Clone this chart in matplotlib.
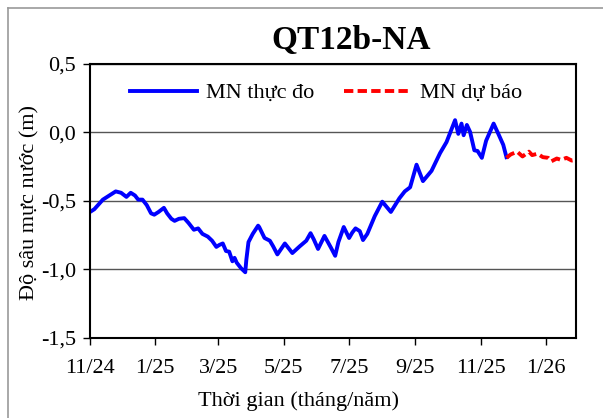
import numpy as np
import pandas as pd
import matplotlib
matplotlib.use("Agg")
import matplotlib.pyplot as plt
from matplotlib.ticker import FuncFormatter, MultipleLocator
from matplotlib.lines import Line2D

plt.rcParams["font.family"] = ["Liberation Serif", "DejaVu Serif"]
plt.rcParams.update({'font.size': 16})

# observed water level (m)
obs_dates = ["2024-11-01", "2024-11-05", "2024-11-13", "2024-11-17", "2024-11-25", "2024-11-30",
             "2024-12-05", "2024-12-09", "2024-12-13", "2024-12-16", "2024-12-20", "2024-12-24",
             "2024-12-28", "2024-12-31", "2025-01-04", "2025-01-09", "2025-01-12", "2025-01-16",
             "2025-01-19", "2025-01-23", "2025-01-28", "2025-02-01", "2025-02-06", "2025-02-10",
             "2025-02-14", "2025-02-19", "2025-02-23", "2025-02-27", "2025-03-02", "2025-03-05",
             "2025-03-08", "2025-03-11", "2025-03-14", "2025-03-16", "2025-03-18", "2025-03-22",
             "2025-03-26", "2025-03-27", "2025-03-29", "2025-04-02", "2025-04-07", "2025-04-08",
             "2025-04-13", "2025-04-18", "2025-04-21", "2025-04-25", "2025-05-02", "2025-05-09",
             "2025-05-16", "2025-05-22", "2025-05-26", "2025-05-29", "2025-06-02", "2025-06-08",
             "2025-06-14", "2025-06-18", "2025-06-21", "2025-06-26", "2025-07-01", "2025-07-04",
             "2025-07-07", "2025-07-11", "2025-07-14", "2025-07-18", "2025-07-25", "2025-08-01",
             "2025-08-09", "2025-08-17", "2025-08-22", "2025-08-27", "2025-09-02", "2025-09-08",
             "2025-09-16", "2025-09-24", "2025-09-30", "2025-10-03", "2025-10-08", "2025-10-11",
             "2025-10-14", "2025-10-16", "2025-10-19", "2025-10-22", "2025-10-26", "2025-10-29",
             "2025-11-02", "2025-11-06", "2025-11-13", "2025-11-18", "2025-11-22", "2025-11-25"]
obs_level = [-0.58, -0.56, -0.49, -0.47, -0.43, -0.44,
             -0.47, -0.44, -0.46, -0.49, -0.49, -0.53,
             -0.59, -0.60, -0.58, -0.55, -0.59, -0.63,
             -0.645, -0.63, -0.625, -0.66, -0.71, -0.70,
             -0.74, -0.76, -0.79, -0.835, -0.82, -0.81,
             -0.865, -0.87, -0.94, -0.915, -0.95, -0.99,
             -1.02, -0.93, -0.80, -0.74, -0.68, -0.69,
             -0.77, -0.79, -0.83, -0.89, -0.81, -0.88,
             -0.83, -0.79, -0.735, -0.78, -0.85, -0.755,
             -0.84, -0.90, -0.80, -0.69, -0.77, -0.73,
             -0.70, -0.72, -0.785, -0.74, -0.61, -0.505,
             -0.58, -0.48, -0.43, -0.40, -0.235, -0.355,
             -0.28, -0.15, -0.07, -0.01, 0.09, -0.01,
             0.065, -0.02, 0.055, 0.005, -0.13, -0.135,
             -0.185, -0.06, 0.065, -0.02, -0.09, -0.18]

# forecast water level (m)
fc_dates = ["2025-11-25", "2025-11-29", "2025-12-05", "2025-12-10", "2025-12-16", "2025-12-19",
            "2025-12-24", "2025-12-29", "2026-01-03", "2026-01-06", "2026-01-11", "2026-01-15",
            "2026-01-20", "2026-01-25", "2026-01-29"]
fc_level = [-0.185, -0.16, -0.14, -0.175, -0.14, -0.165,
            -0.155, -0.18, -0.185, -0.21, -0.19, -0.20,
            -0.185, -0.205, -0.20]

tick_dates = ["2024-11-01", "2025-01-01", "2025-03-01", "2025-05-01",
              "2025-07-01", "2025-09-01", "2025-11-01", "2026-01-01"]
tick_labels = ["11/24", "1/25", "3/25", "5/25", "7/25", "9/25", "11/25", "1/26"]

obs_x = pd.to_datetime(obs_dates)
fc_x = pd.to_datetime(fc_dates)

fig = plt.figure(figsize=(6.03, 4.18), dpi=100)
ax = fig.add_axes([0.1493, 0.1914, 0.8060, 0.6555])

ax.plot(obs_x, obs_level, color="#0000FF", lw=2.8, label="MN thực đo", solid_joinstyle="round")
ax.plot(fc_x, fc_level, color="#FF0000", lw=2.8, ls=(0, (2.4, 1.1)), label="MN dự báo")

ax.set_xlim(pd.Timestamp("2024-11-01"), pd.Timestamp("2026-01-29"))
ax.set_ylim(-1.5, 0.5)
ax.yaxis.set_major_locator(MultipleLocator(0.5))
ax.yaxis.set_major_formatter(FuncFormatter(lambda v, p: f"{v:.1f}".replace(".", ",")))
ax.set_xticks(pd.to_datetime(tick_dates), labels=tick_labels)
ax.tick_params(axis="both", direction="out", length=5, width=1, colors="black", labelsize=16)
ax.tick_params(axis="x", pad=10)
ax.tick_params(axis="y", pad=5)
ax.grid(axis="y", color="#555555", lw=1)
for s in ax.spines.values():
    s.set_linewidth(1.5)

# axis titles and chart title
fig.text(299 / 603, 1 - 401 / 418, "Thời gian (tháng/năm)", fontsize=16, ha="center", va="center")
fig.text(30 / 603, 1 - 202 / 418, "Độ sâu mực nước (m)", fontsize=16, ha="center", va="center",
         rotation=90)
fig.text(351 / 603, 1 - 40 / 418, "QT12b-NA", fontsize=24, fontweight="bold", ha="center", va="center")

ax.legend(loc="center left", bbox_to_anchor=(0.06, 0.894), ncol=2, frameon=False,
          borderpad=0, handlelength=3.0, handletextpad=0.4, columnspacing=1.35, fontsize=16)

# outer chart border (gray)
fig.add_artist(Line2D([8 / 603, 8 / 603], [0, 1 - 8 / 418], color="#999999", lw=1.2))
fig.add_artist(Line2D([8 / 603, 1], [1 - 8 / 418, 1 - 8 / 418], color="#999999", lw=1.2))

fig.savefig("out.png", dpi=100)
